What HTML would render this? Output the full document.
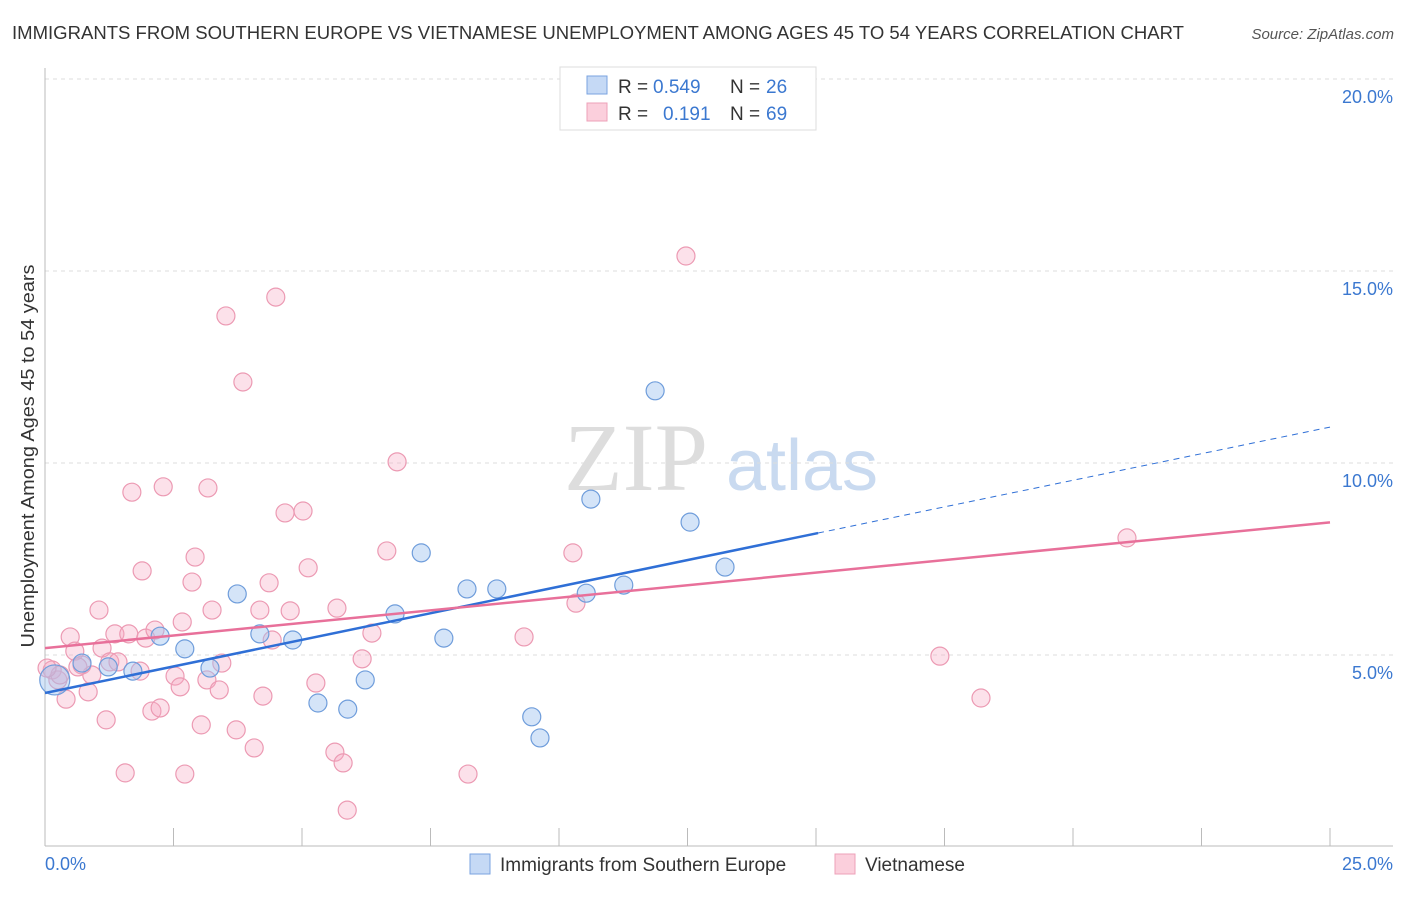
<!DOCTYPE html>
<html><head><meta charset="utf-8"><style>
body{margin:0;background:#fff;font-family:"Liberation Sans",sans-serif;}
</style></head><body>
<svg width="1406" height="892" xmlns="http://www.w3.org/2000/svg" font-family="Liberation Sans, sans-serif">
<text x="12" y="39" font-size="18" fill="#333" textLength="1172" lengthAdjust="spacingAndGlyphs">IMMIGRANTS FROM SOUTHERN EUROPE VS VIETNAMESE UNEMPLOYMENT AMONG AGES 45 TO 54 YEARS CORRELATION CHART</text>
<text x="1394" y="39" font-size="15" fill="#555" text-anchor="end" font-style="italic">Source: ZipAtlas.com</text>
<text x="636" y="490" font-size="96" fill="#ddd" font-family="Liberation Serif, serif" text-anchor="middle">ZIP</text>
<text x="802" y="490" font-size="72" fill="#c9daf0" text-anchor="middle">atlas</text>
<g id="grid"></g>
<line x1="45" y1="68" x2="45" y2="846" stroke="#bbb"/>
<line x1="45" y1="846" x2="1393" y2="846" stroke="#bbb"/>
<text transform="translate(34,456) rotate(-90)" font-size="18" fill="#333" textLength="383" lengthAdjust="spacingAndGlyphs" text-anchor="middle">Unemployment Among Ages 45 to 54 years</text>
<text x="45" y="870" font-size="18" fill="#3b78d0">0.0%</text>
<text x="1393" y="870" font-size="18" fill="#3b78d0" text-anchor="end">25.0%</text>
<g id="pts"></g>
<g id="lines"></g>
<g>
<rect x="560" y="67" width="256" height="63" fill="#fff" stroke="#ddd"/>
<rect x="587" y="76" width="20" height="18" fill="#c5d9f5" stroke="#7aa3e0"/>
<rect x="587" y="103" width="20" height="18" fill="#fbcfdc" stroke="#eea0b8"/>
<text x="618" y="93" font-size="19" fill="#333">R =</text>
<text x="653" y="93" font-size="19" fill="#3b78d0">0.549</text>
<text x="730" y="93" font-size="19" fill="#333">N =</text>
<text x="766" y="93" font-size="19" fill="#3b78d0">26</text>
<text x="618" y="120" font-size="19" fill="#333">R =</text>
<text x="663" y="120" font-size="19" fill="#3b78d0">0.191</text>
<text x="730" y="120" font-size="19" fill="#333">N =</text>
<text x="766" y="120" font-size="19" fill="#3b78d0">69</text>
</g>
<g>
<rect x="470" y="854" width="20" height="20" fill="#c5d9f5" stroke="#7aa3e0"/>
<text x="500" y="871" font-size="19" fill="#333">Immigrants from Southern Europe</text>
<rect x="835" y="854" width="20" height="20" fill="#fbcfdc" stroke="#eea0b8"/>
<text x="865" y="871" font-size="19" fill="#333">Vietnamese</text>
</g>
</svg>
<script>
const yTicks=[5,10,15,20];
const xTicks=[0,2.5,5,7.5,10,12.5,15,17.5,20,22.5,25];
const blueX=[0.19,0.72,1.23,1.71,2.24,2.72,3.21,3.74,4.18,4.82,5.31,5.89,6.23,6.81,7.32,7.76,8.21,8.79,9.47,9.63,10.53,10.62,11.26,11.87,12.55,13.23];
const blueY=[4.35,4.79,4.69,4.58,5.49,5.16,4.66,6.59,5.55,5.39,3.75,3.59,4.35,6.07,7.66,5.44,6.72,6.72,3.39,2.84,6.61,9.06,6.82,11.88,8.46,7.29];
const pinkX=[0.14,0.25,0.41,0.49,0.58,0.72,0.84,0.91,1.05,1.11,1.19,1.26,1.36,1.42,1.56,1.63,1.69,1.85,1.89,1.96,2.08,2.14,2.24,2.30,2.53,2.63,2.67,2.72,2.86,2.92,3.04,3.17,3.15,3.25,3.39,3.44,3.52,3.72,3.85,4.07,4.18,4.24,4.36,4.42,4.49,4.67,4.77,5.02,5.12,5.27,5.64,5.68,5.80,5.88,6.17,6.36,6.65,6.85,8.23,9.32,10.27,10.33,12.47,17.41,18.21,21.05,0.29,0.04,0.64];
const pinkY=[4.61,4.35,3.85,5.47,5.10,4.74,4.04,4.48,6.17,5.18,3.31,4.82,5.55,4.82,1.93,5.55,9.24,4.58,7.19,5.44,3.54,5.65,3.62,9.38,4.45,4.17,5.86,1.90,6.90,7.55,3.18,9.35,4.35,6.17,4.09,4.79,13.83,3.05,12.11,2.58,6.17,3.93,6.88,5.39,14.32,8.70,6.15,8.75,7.27,4.27,2.47,6.22,2.19,0.96,4.90,5.57,7.71,10.03,1.90,5.47,7.66,6.35,15.39,4.97,3.88,8.05,4.48,4.66,4.69];
const blueLine=[4.01,0.277];
const pinkLine=[5.18,0.131];
const X=v=>45+v*51.4, Y=v=>847-v*38.4;
const NS='http://www.w3.org/2000/svg';
function mk(t,a,p){const e=document.createElementNS(NS,t);for(const k in a)e.setAttribute(k,a[k]);p.appendChild(e);return e;}
const g=document.getElementById('grid');
yTicks.forEach(v=>{
 const l=mk('line',{x1:45,x2:1393,y1:Y(v),y2:Y(v),stroke:'#ddd','stroke-dasharray':'4,4'},g);
 
 
 const t=mk('text',{x:1393,y:Y(v)+24,'font-size':18,fill:'#3b78d0','text-anchor':'end'},g);
 t.textContent=v.toFixed(1)+'%';
 
 
});
xTicks.forEach(v=>{
 const l=mk('line',{x1:X(v),x2:X(v),y1:828,y2:846,stroke:'#bbb'},g);
 
 
});
const p=document.getElementById('pts');
pinkX.forEach((x,i)=>{
 const c=mk('circle',{cx:X(x),cy:Y(pinkY[i]),r:9,fill:'rgba(246,170,195,0.35)',stroke:'#ec9ab3','stroke-width':1.2},p);
 
 
});
blueX.forEach((x,i)=>{
 const c=mk('circle',{cx:X(x),cy:Y(blueY[i]),r:i===0?15:9,fill:'rgba(160,195,240,0.45)',stroke:'#6f9ddb','stroke-width':1.2},p);
 
 
});
const L=document.getElementById('lines');
const b1=mk('line',{x1:X(0),y1:Y(blueLine[0]),x2:X(15.04),y2:Y(blueLine[0]+blueLine[1]*15.04),stroke:'#2f6fd6','stroke-width':2.5},L);


const b2=mk('line',{x1:X(15.04),y1:Y(blueLine[0]+blueLine[1]*15.04),x2:X(25),y2:Y(blueLine[0]+blueLine[1]*25),stroke:'#2f6fd6','stroke-width':1,'stroke-dasharray':'6,5'},L);


const p1=mk('line',{x1:X(0),y1:Y(pinkLine[0]),x2:X(25),y2:Y(pinkLine[0]+pinkLine[1]*25),stroke:'#e8709a','stroke-width':2.5},L);


</script>
</body></html>
